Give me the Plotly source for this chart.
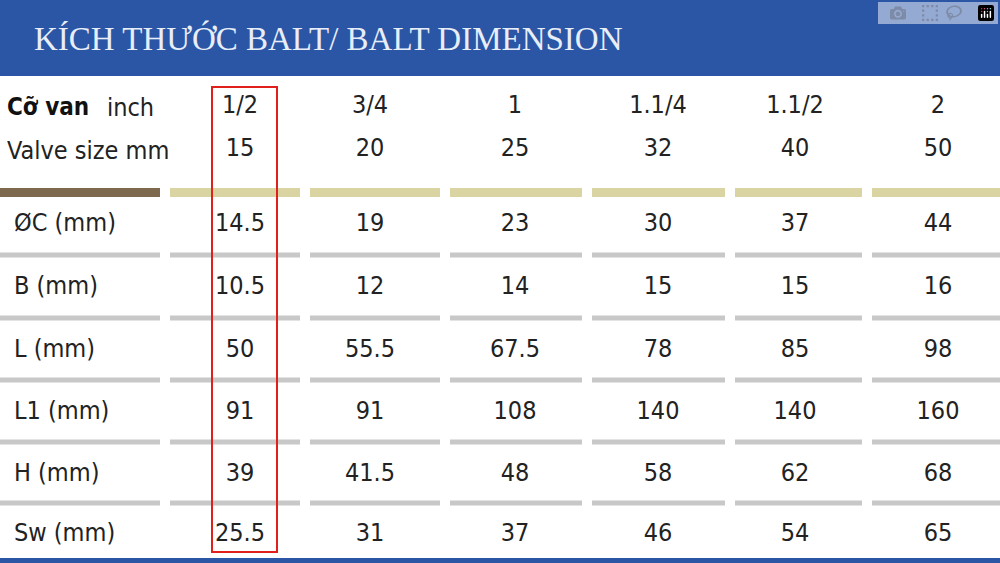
import plotly.graph_objects as go

title = "KÍCH THƯỚC BALT/ BALT DIMENSION"
sizes_inch = ["1/2", "3/4", "1", "1.1/4", "1.1/2", "2"]
sizes_mm = ["15", "20", "25", "32", "40", "50"]
row_labels = ["ØC (mm)", "B (mm)", "L (mm)", "L1 (mm)", "H (mm)", "Sw (mm)"]
oc = ["14.5", "19", "23", "30", "37", "44"]
b = ["10.5", "12", "14", "15", "15", "16"]
l = ["50", "55.5", "67.5", "78", "85", "98"]
l1 = ["91", "91", "108", "140", "140", "160"]
h = ["39", "41.5", "48", "58", "62", "68"]
sw = ["25.5", "31", "37", "46", "54", "65"]
rows = [oc, b, l, l1, h, sw]

col_x = [240, 370, 515, 658, 795, 938]
seg = [(170, 300), (310, 440), (450, 582), (592, 725), (735, 862), (872, 1000)]
row_y = [225, 288, 351, 413, 475, 535]
font = "DejaVu Sans Condensed, Roboto, sans-serif"
fs = 25

fig = go.Figure()
# header
fig.add_trace(go.Scatter(x=col_x, y=[107] * 6, text=sizes_inch, mode="text",
                         textfont=dict(family=font, size=fs, color="#222")))
fig.add_trace(go.Scatter(x=col_x, y=[150] * 6, text=sizes_mm, mode="text",
                         textfont=dict(family=font, size=fs, color="#222")))
# body
for vals, y in zip(rows, row_y):
    fig.add_trace(go.Scatter(x=col_x, y=[y] * 6, text=vals, mode="text",
                             textfont=dict(family=font, size=fs, color="#222")))
fig.add_trace(go.Scatter(x=[14] * 6, y=row_y, text=row_labels, mode="text",
                         textposition="middle right",
                         textfont=dict(family=font, size=fs, color="#222")))

shapes = [dict(type="rect", x0=0, x1=1000, y0=0, y1=76, fillcolor="#2b55a5", line_width=0),
          dict(type="rect", x0=0, x1=1000, y0=558, y1=563, fillcolor="#2b55a5", line_width=0),
          dict(type="rect", x0=0, x1=160, y0=188, y1=197, fillcolor="#7d6a4e", line_width=0)]
for x0, x1 in seg:
    shapes.append(dict(type="rect", x0=x0, x1=x1, y0=188, y1=197, fillcolor="#d9d4a2", line_width=0))
for y in [255, 318, 380, 442, 503]:
    for x0, x1 in [(0, 160)] + seg:
        shapes.append(dict(type="rect", x0=x0, x1=x1, y0=y - 2.5, y1=y + 2.5,
                           fillcolor="#c8c8c8", line_width=0))
shapes.append(dict(type="rect", x0=212, x1=277, y0=87, y1=552,
                   line=dict(color="#e0201a", width=2)))

annotations = [
    dict(x=32, y=38, text=title, showarrow=False, xanchor="left",
         font=dict(family="Liberation Serif, serif", size=33, color="#e8eef8")),
    dict(x=5, y=107, text="<b>Cỡ van</b>", showarrow=False, xanchor="left",
         font=dict(family=font, size=24, color="#111")),
    dict(x=156, y=107, text="inch", showarrow=False, xanchor="right",
         font=dict(family=font, size=fs, color="#222")),
    dict(x=5, y=150, text="Valve size mm", showarrow=False, xanchor="left",
         font=dict(family=font, size=fs, color="#222")),
]

fig.update_layout(width=1000, height=563, margin=dict(l=0, r=0, t=0, b=0),
                  plot_bgcolor="white", paper_bgcolor="white", showlegend=False,
                  shapes=shapes, annotations=annotations)
fig.update_xaxes(range=[0, 1000], visible=False, fixedrange=True)
fig.update_yaxes(range=[563, 0], visible=False, fixedrange=True)
for s in fig.layout.shapes:
    s.layer = "below"
fig.write_html("out.html", post_script="document.body.style.margin='0';")
